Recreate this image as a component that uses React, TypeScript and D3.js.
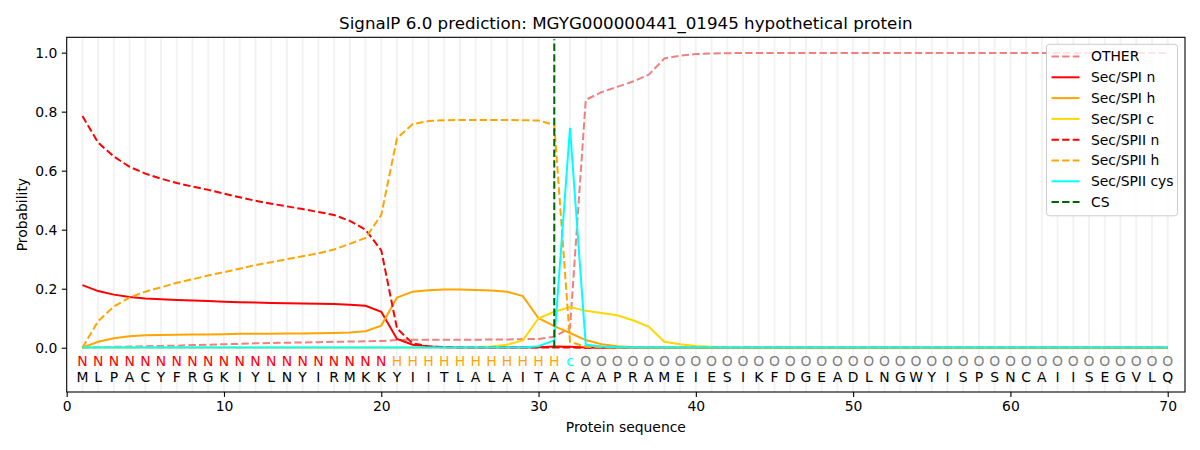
import { useEffect, useRef } from 'react';
import * as d3 from 'd3';

const sequence = 'MLPACYFRGKIYLNYIRMKKYIITLALAITACAAPRAMEIESIKFDGEADLNGWYISPSNCAIISEGVLQ'.split('');
const regionLabels = 'NNNNNNNNNNNNNNNNNNNNHHHHHHHHHHHcOOOOOOOOOOOOOOOOOOOOOOOOOOOOOOOOOOOOOO'.split('');

const other = [
  0.000, 0.002, 0.003, 0.004, 0.005, 0.006, 0.007, 0.009, 0.010, 0.012,
  0.013, 0.015, 0.016, 0.017, 0.018, 0.019, 0.020, 0.021, 0.022, 0.023,
  0.026, 0.027, 0.027, 0.027, 0.027, 0.027, 0.028, 0.028, 0.029, 0.030,
  0.037, 0.067, 0.840, 0.866, 0.884, 0.902, 0.925, 0.980, 0.990, 0.995,
  0.997, 0.998, 0.999, 0.999, 0.999, 0.999, 0.999, 0.999, 0.999, 0.999,
  0.999, 0.999, 0.999, 0.999, 0.999, 0.999, 0.999, 0.999, 0.999, 0.999,
  0.999, 0.999, 0.999, 0.999, 0.999, 0.999, 0.999, 0.999, 0.999, 0.999,
];
const spiN = [
  0.212, 0.192, 0.180, 0.172, 0.167, 0.164, 0.162, 0.160, 0.158, 0.156,
  0.154, 0.153, 0.152, 0.151, 0.150, 0.149, 0.148, 0.146, 0.142, 0.122,
  0.030, 0.010, 0.004, 0.002, 0.001, 0.001, 0.001, 0.001, 0.001, 0.002,
  0.004, 0.003, 0.001, 0.000, 0.000, 0.000, 0.000, 0.000, 0.000, 0.000,
  0.000, 0.000, 0.000, 0.000, 0.000, 0.000, 0.000, 0.000, 0.000, 0.000,
  0.000, 0.000, 0.000, 0.000, 0.000, 0.000, 0.000, 0.000, 0.000, 0.000,
  0.000, 0.000, 0.000, 0.000, 0.000, 0.000, 0.000, 0.000, 0.000, 0.000,
];
const spiH = [
  0.000, 0.020, 0.032, 0.039, 0.042, 0.043, 0.044, 0.045, 0.045, 0.046,
  0.047, 0.047, 0.047, 0.048, 0.048, 0.049, 0.050, 0.052, 0.056, 0.075,
  0.170, 0.190, 0.195, 0.197, 0.197, 0.196, 0.194, 0.190, 0.175, 0.100,
  0.073, 0.050, 0.026, 0.012, 0.005, 0.002, 0.001, 0.001, 0.000, 0.000,
  0.000, 0.000, 0.000, 0.000, 0.000, 0.000, 0.000, 0.000, 0.000, 0.000,
  0.000, 0.000, 0.000, 0.000, 0.000, 0.000, 0.000, 0.000, 0.000, 0.000,
  0.000, 0.000, 0.000, 0.000, 0.000, 0.000, 0.000, 0.000, 0.000, 0.000,
];
const spiC = [
  0.001, 0.001, 0.001, 0.001, 0.001, 0.001, 0.001, 0.001, 0.001, 0.001,
  0.001, 0.001, 0.001, 0.001, 0.001, 0.001, 0.001, 0.001, 0.001, 0.001,
  0.001, 0.001, 0.001, 0.001, 0.001, 0.002, 0.004, 0.010, 0.025, 0.100,
  0.122, 0.138, 0.125, 0.118, 0.110, 0.093, 0.072, 0.020, 0.012, 0.006,
  0.003, 0.002, 0.001, 0.001, 0.001, 0.001, 0.001, 0.001, 0.001, 0.001,
  0.001, 0.001, 0.001, 0.001, 0.001, 0.001, 0.001, 0.001, 0.001, 0.001,
  0.001, 0.001, 0.001, 0.001, 0.001, 0.001, 0.001, 0.001, 0.001, 0.001,
];
const spiiN = [
  0.785, 0.695, 0.648, 0.613, 0.590, 0.573, 0.558, 0.546, 0.535, 0.522,
  0.510, 0.498, 0.488, 0.479, 0.470, 0.460, 0.450, 0.430, 0.400, 0.330,
  0.065, 0.015, 0.005, 0.002, 0.001, 0.001, 0.001, 0.001, 0.001, 0.001,
  0.001, 0.001, 0.000, 0.000, 0.000, 0.000, 0.000, 0.000, 0.000, 0.000,
  0.000, 0.000, 0.000, 0.000, 0.000, 0.000, 0.000, 0.000, 0.000, 0.000,
  0.000, 0.000, 0.000, 0.000, 0.000, 0.000, 0.000, 0.000, 0.000, 0.000,
  0.000, 0.000, 0.000, 0.000, 0.000, 0.000, 0.000, 0.000, 0.000, 0.000,
];
const spiiH = [
  0.000, 0.090, 0.140, 0.170, 0.190, 0.205, 0.220, 0.232, 0.245, 0.256,
  0.268, 0.280, 0.290, 0.300, 0.310, 0.320, 0.333, 0.352, 0.372, 0.450,
  0.710, 0.758, 0.768, 0.771, 0.772, 0.772, 0.772, 0.772, 0.771, 0.770,
  0.755, 0.020, 0.003, 0.001, 0.000, 0.000, 0.000, 0.000, 0.000, 0.000,
  0.000, 0.000, 0.000, 0.000, 0.000, 0.000, 0.000, 0.000, 0.000, 0.000,
  0.000, 0.000, 0.000, 0.000, 0.000, 0.000, 0.000, 0.000, 0.000, 0.000,
  0.000, 0.000, 0.000, 0.000, 0.000, 0.000, 0.000, 0.000, 0.000, 0.000,
];
const spiiCys = [
  0.001, 0.001, 0.001, 0.001, 0.001, 0.001, 0.001, 0.001, 0.001, 0.001,
  0.001, 0.001, 0.001, 0.001, 0.001, 0.001, 0.001, 0.001, 0.001, 0.001,
  0.001, 0.001, 0.001, 0.001, 0.001, 0.001, 0.001, 0.001, 0.001, 0.005,
  0.025, 0.745, 0.010, 0.004, 0.002, 0.001, 0.001, 0.001, 0.001, 0.001,
  0.001, 0.001, 0.001, 0.001, 0.001, 0.001, 0.001, 0.001, 0.001, 0.001,
  0.001, 0.001, 0.001, 0.001, 0.001, 0.001, 0.001, 0.001, 0.001, 0.001,
  0.001, 0.001, 0.001, 0.001, 0.001, 0.001, 0.001, 0.001, 0.001, 0.001,
];
const csPosition = 31;

const xTicks = [0, 10, 20, 30, 40, 50, 60, 70];
const yTicks = [0, 0.2, 0.4, 0.6, 0.8, 1.0];

const series = [
  { name: 'OTHER', values: other, color: '#f08080', dashed: true },
  { name: 'Sec/SPI n', values: spiN, color: '#ff0000', dashed: false },
  { name: 'Sec/SPI h', values: spiH, color: '#ffa500', dashed: false },
  { name: 'Sec/SPI c', values: spiC, color: '#ffd700', dashed: false },
  { name: 'Sec/SPII n', values: spiiN, color: '#ff0000', dashed: true },
  { name: 'Sec/SPII h', values: spiiH, color: '#ffa500', dashed: true },
  { name: 'Sec/SPII cys', values: spiiCys, color: '#00ffff', dashed: false },
];

const labelColors: Record<string, string> = { N: '#ff0000', H: '#ffa500', c: '#00ffff', O: '#808080' };

const FONT = '"DejaVu Sans", sans-serif';

export default function App() {
  const svgRef = useRef<SVGSVGElement>(null);

  useEffect(() => {
    if (!svgRef.current) return;
    const W = 1200, H = 450;
    const margin = { top: 37.3, right: 15, bottom: 58, left: 66.7 };
    const width = W - margin.left - margin.right;
    const height = H - margin.top - margin.bottom;

    const root = d3.select(svgRef.current);
    root.selectAll('*').remove();
    root.attr('width', W).attr('height', H);

    const svg = root.append('g').attr('transform', `translate(${margin.left},${margin.top})`);

    const x = d3.scaleLinear().domain([0, 71.1]).range([0, width]);
    const y = d3.scaleLinear().domain([-0.15, 1.052]).range([height, 0]);

    // light vertical guides at each residue
    svg.append('g')
      .selectAll('line')
      .data(sequence.map((_, i) => i + 1))
      .enter()
      .append('line')
      .attr('x1', d => x(d)).attr('x2', d => x(d))
      .attr('y1', 0).attr('y2', height)
      .style('stroke', '#000')
      .style('stroke-opacity', 0.05)
      .style('stroke-width', 2);

    // residue letters and region labels
    const letters = svg.append('g').style('font-family', FONT).style('font-size', '13.9px');
    letters.selectAll('text.lab')
      .data(regionLabels)
      .enter()
      .append('text')
      .attr('x', (_, i) => x(i + 1))
      .attr('y', y(-0.045))
      .attr('text-anchor', 'middle')
      .attr('dominant-baseline', 'central')
      .style('fill', d => labelColors[d])
      .text(d => d);
    letters.selectAll('text.seq')
      .data(sequence)
      .enter()
      .append('text')
      .attr('x', (_, i) => x(i + 1))
      .attr('y', y(-0.1))
      .attr('text-anchor', 'middle')
      .attr('dominant-baseline', 'central')
      .style('fill', '#000')
      .text(d => d);

    const line = d3.line<number>()
      .x((_, i) => x(i + 1))
      .y(d => y(d));

    series.forEach(s => {
      svg.append('path')
        .datum(s.values)
        .attr('d', line)
        .style('fill', 'none')
        .style('stroke', s.color)
        .style('stroke-width', 2)
        .style('stroke-dasharray', s.dashed ? '7.4,3.2' : null);
    });

    // cleavage site
    svg.append('line')
      .attr('x1', x(csPosition)).attr('x2', x(csPosition))
      .attr('y1', y(0)).attr('y2', y(1.045))
      .style('stroke', '#006400')
      .style('stroke-width', 2)
      .style('stroke-dasharray', '7.4,3.2');

    // axes
    const xAxis = svg.append('g')
      .attr('transform', `translate(0,${height})`)
      .call(d3.axisBottom(x).tickValues(xTicks).tickFormat(d3.format('d')).tickSize(4.9).tickPadding(4.5));
    const yAxis = svg.append('g')
      .call(d3.axisLeft(y).tickValues(yTicks).tickFormat(d3.format('.1f')).tickSize(4.9).tickPadding(4.5));
    [xAxis, yAxis].forEach(a => {
      a.select('.domain').remove();
      a.selectAll('text').style('font-family', FONT).style('font-size', '13.9px').style('fill', '#000');
      a.selectAll('line').style('stroke', '#000').style('stroke-width', 1.1);
    });

    svg.append('rect')
      .attr('width', width).attr('height', height)
      .style('fill', 'none')
      .style('stroke', '#000')
      .style('stroke-width', 1.1);

    // titles
    svg.append('text')
      .attr('x', width / 2).attr('y', -8.5)
      .attr('text-anchor', 'middle')
      .style('font-family', FONT).style('font-size', '16.7px')
      .text('SignalP 6.0 prediction: MGYG000000441_01945 hypothetical protein');
    svg.append('text')
      .attr('x', width / 2).attr('y', height + 40)
      .attr('text-anchor', 'middle')
      .style('font-family', FONT).style('font-size', '13.9px')
      .text('Protein sequence');
    svg.append('text')
      .attr('transform', `translate(${22 - margin.left},${height / 2}) rotate(-90)`)
      .attr('text-anchor', 'middle')
      .attr('dominant-baseline', 'central')
      .style('font-family', FONT).style('font-size', '13.9px')
      .text('Probability');

    // legend
    const legendItems = [
      ...series.map(s => ({ name: s.name, color: s.color, dashed: s.dashed })),
      { name: 'CS', color: '#006400', dashed: true },
    ];
    const legend = root.append('g').attr('transform', 'translate(1046.5,44.3)');
    legend.append('rect')
      .attr('width', 131).attr('height', 171.5)
      .attr('rx', 3)
      .style('fill', '#fff').style('fill-opacity', 0.8)
      .style('stroke', '#cccccc').style('stroke-width', 1);
    legendItems.forEach((item, i) => {
      const cy = 12.2 + i * 20.8;
      legend.append('line')
        .attr('x1', 5).attr('x2', 33)
        .attr('y1', cy).attr('y2', cy)
        .style('stroke', item.color)
        .style('stroke-width', 2)
        .style('stroke-dasharray', item.dashed ? '7.4,3.2' : null);
      legend.append('text')
        .attr('x', 44.5).attr('y', cy)
        .attr('dominant-baseline', 'central')
        .style('font-family', FONT).style('font-size', '13.9px')
        .text(item.name);
    });
  }, []);

  return (
    <div style={{ position: 'absolute', left: 0, top: 0, width: 1200, height: 450, background: '#fff' }}>
      <svg ref={svgRef}></svg>
    </div>
  );
}
